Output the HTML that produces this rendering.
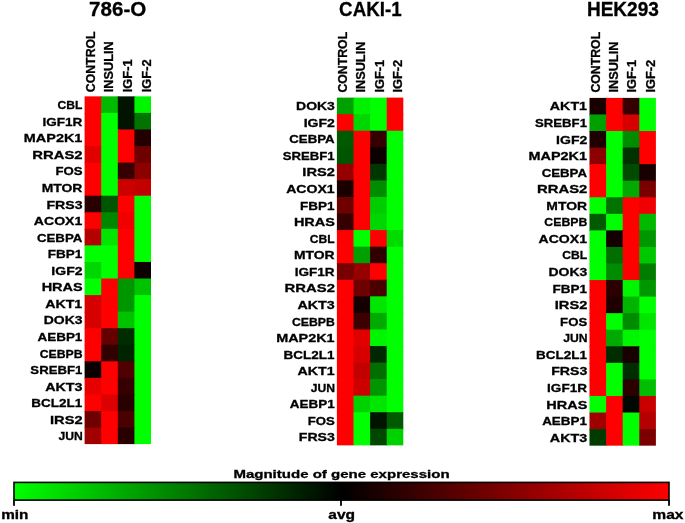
<!DOCTYPE html>
<html><head><meta charset="utf-8"><style>
html,body{margin:0;padding:0;background:#fff;width:685px;height:523px;overflow:hidden}
svg{display:block;filter:blur(0.4px)}
text{font-family:"Liberation Sans",sans-serif;font-weight:bold;fill:#000;stroke:#000;stroke-width:0.3px}
</style></head><body>
<svg width="685" height="523" viewBox="0 0 685 523">
<defs><linearGradient id="g" x1="0" x2="1" y1="0" y2="0">
<stop offset="0" stop-color="#00ff00"/><stop offset="0.5" stop-color="#000000"/><stop offset="1" stop-color="#ff0000"/>
</linearGradient></defs>

<text x="89.1" y="15.7" font-size="21" textLength="57.2" lengthAdjust="spacingAndGlyphs">786-O</text>
<text transform="translate(95.3,92.2) rotate(-90)" font-size="13.6" textLength="60.8" lengthAdjust="spacingAndGlyphs">CONTROL</text>
<text transform="translate(113.2,92.2) rotate(-90)" font-size="13.6" textLength="51.0" lengthAdjust="spacingAndGlyphs">INSULIN</text>
<text transform="translate(131.9,92.2) rotate(-90)" font-size="13.6" textLength="32.8" lengthAdjust="spacingAndGlyphs">IGF-1</text>
<text transform="translate(150.5,92.2) rotate(-90)" font-size="13.6" textLength="32.8" lengthAdjust="spacingAndGlyphs">IGF-2</text>
<text x="82.36" y="109.1" font-size="11.6" text-anchor="end" textLength="24.87" lengthAdjust="spacingAndGlyphs">CBL</text>
<text x="82.28" y="125.7" font-size="11.6" text-anchor="end" textLength="39.87" lengthAdjust="spacingAndGlyphs">IGF1R</text>
<text x="82.36" y="142.2" font-size="11.6" text-anchor="end" textLength="58.50" lengthAdjust="spacingAndGlyphs">MAP2K1</text>
<text x="82.61" y="158.8" font-size="11.6" text-anchor="end" textLength="50.28" lengthAdjust="spacingAndGlyphs">RRAS2</text>
<text x="82.52" y="175.4" font-size="11.6" text-anchor="end" textLength="27.09" lengthAdjust="spacingAndGlyphs">FOS</text>
<text x="82.37" y="191.9" font-size="11.6" text-anchor="end" textLength="40.69" lengthAdjust="spacingAndGlyphs">MTOR</text>
<text x="82.57" y="208.5" font-size="11.6" text-anchor="end" textLength="36.10" lengthAdjust="spacingAndGlyphs">FRS3</text>
<text x="82.30" y="225.0" font-size="11.6" text-anchor="end" textLength="48.44" lengthAdjust="spacingAndGlyphs">ACOX1</text>
<text x="82.36" y="241.6" font-size="11.6" text-anchor="end" textLength="45.40" lengthAdjust="spacingAndGlyphs">CEBPA</text>
<text x="82.32" y="258.2" font-size="11.6" text-anchor="end" textLength="34.51" lengthAdjust="spacingAndGlyphs">FBP1</text>
<text x="82.57" y="274.7" font-size="11.6" text-anchor="end" textLength="31.19" lengthAdjust="spacingAndGlyphs">IGF2</text>
<text x="82.62" y="291.3" font-size="11.6" text-anchor="end" textLength="40.97" lengthAdjust="spacingAndGlyphs">HRAS</text>
<text x="82.30" y="307.8" font-size="11.6" text-anchor="end" textLength="37.13" lengthAdjust="spacingAndGlyphs">AKT1</text>
<text x="82.53" y="324.4" font-size="11.6" text-anchor="end" textLength="38.74" lengthAdjust="spacingAndGlyphs">DOK3</text>
<text x="82.36" y="341.0" font-size="11.6" text-anchor="end" textLength="44.89" lengthAdjust="spacingAndGlyphs">AEBP1</text>
<text x="82.62" y="357.5" font-size="11.6" text-anchor="end" textLength="42.93" lengthAdjust="spacingAndGlyphs">CEBPB</text>
<text x="82.28" y="374.1" font-size="11.6" text-anchor="end" textLength="51.91" lengthAdjust="spacingAndGlyphs">SREBF1</text>
<text x="82.54" y="390.6" font-size="11.6" text-anchor="end" textLength="37.38" lengthAdjust="spacingAndGlyphs">AKT3</text>
<text x="82.28" y="407.2" font-size="11.6" text-anchor="end" textLength="50.97" lengthAdjust="spacingAndGlyphs">BCL2L1</text>
<text x="82.61" y="423.8" font-size="11.6" text-anchor="end" textLength="32.56" lengthAdjust="spacingAndGlyphs">IRS2</text>
<text x="82.82" y="440.3" font-size="11.6" text-anchor="end" textLength="24.32" lengthAdjust="spacingAndGlyphs">JUN</text>
<rect x="84.60" y="96.35" width="17.40" height="17.36" fill="#ff0000"/>
<rect x="101.20" y="96.35" width="17.40" height="17.36" fill="#00b900"/>
<rect x="117.80" y="96.35" width="17.40" height="17.36" fill="#001400"/>
<rect x="134.40" y="96.35" width="16.60" height="17.36" fill="#00f500"/>
<rect x="84.60" y="112.91" width="17.40" height="17.36" fill="#ff0000"/>
<rect x="101.20" y="112.91" width="17.40" height="17.36" fill="#00ff00"/>
<rect x="117.80" y="112.91" width="17.40" height="17.36" fill="#001400"/>
<rect x="134.40" y="112.91" width="16.60" height="17.36" fill="#007300"/>
<rect x="84.60" y="129.47" width="17.40" height="17.36" fill="#ff0000"/>
<rect x="101.20" y="129.47" width="17.40" height="17.36" fill="#00ff00"/>
<rect x="117.80" y="129.47" width="17.40" height="17.36" fill="#ff0000"/>
<rect x="134.40" y="129.47" width="16.60" height="17.36" fill="#230000"/>
<rect x="84.60" y="146.03" width="17.40" height="17.36" fill="#e10000"/>
<rect x="101.20" y="146.03" width="17.40" height="17.36" fill="#00ff00"/>
<rect x="117.80" y="146.03" width="17.40" height="17.36" fill="#ff0000"/>
<rect x="134.40" y="146.03" width="16.60" height="17.36" fill="#6e0000"/>
<rect x="84.60" y="162.59" width="17.40" height="17.36" fill="#ff0000"/>
<rect x="101.20" y="162.59" width="17.40" height="17.36" fill="#00ff00"/>
<rect x="117.80" y="162.59" width="17.40" height="17.36" fill="#370000"/>
<rect x="134.40" y="162.59" width="16.60" height="17.36" fill="#8c0000"/>
<rect x="84.60" y="179.15" width="17.40" height="17.36" fill="#ff0000"/>
<rect x="101.20" y="179.15" width="17.40" height="17.36" fill="#00ff00"/>
<rect x="117.80" y="179.15" width="17.40" height="17.36" fill="#cd0000"/>
<rect x="134.40" y="179.15" width="16.60" height="17.36" fill="#c30000"/>
<rect x="84.60" y="195.71" width="17.40" height="17.36" fill="#280000"/>
<rect x="101.20" y="195.71" width="17.40" height="17.36" fill="#005500"/>
<rect x="117.80" y="195.71" width="17.40" height="17.36" fill="#ff0000"/>
<rect x="134.40" y="195.71" width="16.60" height="17.36" fill="#00ff00"/>
<rect x="84.60" y="212.27" width="17.40" height="17.36" fill="#ff0000"/>
<rect x="101.20" y="212.27" width="17.40" height="17.36" fill="#008700"/>
<rect x="117.80" y="212.27" width="17.40" height="17.36" fill="#f00000"/>
<rect x="134.40" y="212.27" width="16.60" height="17.36" fill="#00ff00"/>
<rect x="84.60" y="228.83" width="17.40" height="17.36" fill="#b40000"/>
<rect x="101.20" y="228.83" width="17.40" height="17.36" fill="#00e600"/>
<rect x="117.80" y="228.83" width="17.40" height="17.36" fill="#ff0000"/>
<rect x="134.40" y="228.83" width="16.60" height="17.36" fill="#00ff00"/>
<rect x="84.60" y="245.39" width="17.40" height="17.36" fill="#00ff00"/>
<rect x="101.20" y="245.39" width="17.40" height="17.36" fill="#00ff00"/>
<rect x="117.80" y="245.39" width="17.40" height="17.36" fill="#ff0000"/>
<rect x="134.40" y="245.39" width="16.60" height="17.36" fill="#00ff00"/>
<rect x="84.60" y="261.95" width="17.40" height="17.36" fill="#00d700"/>
<rect x="101.20" y="261.95" width="17.40" height="17.36" fill="#00ff00"/>
<rect x="117.80" y="261.95" width="17.40" height="17.36" fill="#ff0000"/>
<rect x="134.40" y="261.95" width="16.60" height="17.36" fill="#0c0000"/>
<rect x="84.60" y="278.51" width="17.40" height="17.36" fill="#00ff00"/>
<rect x="101.20" y="278.51" width="17.40" height="17.36" fill="#ff0000"/>
<rect x="117.80" y="278.51" width="17.40" height="17.36" fill="#009600"/>
<rect x="134.40" y="278.51" width="16.60" height="17.36" fill="#00c300"/>
<rect x="84.60" y="295.07" width="17.40" height="17.36" fill="#d70000"/>
<rect x="101.20" y="295.07" width="17.40" height="17.36" fill="#ff0000"/>
<rect x="117.80" y="295.07" width="17.40" height="17.36" fill="#009600"/>
<rect x="134.40" y="295.07" width="16.60" height="17.36" fill="#00ff00"/>
<rect x="84.60" y="311.63" width="17.40" height="17.36" fill="#d70000"/>
<rect x="101.20" y="311.63" width="17.40" height="17.36" fill="#ff0000"/>
<rect x="117.80" y="311.63" width="17.40" height="17.36" fill="#00c300"/>
<rect x="134.40" y="311.63" width="16.60" height="17.36" fill="#00ff00"/>
<rect x="84.60" y="328.19" width="17.40" height="17.36" fill="#ff0000"/>
<rect x="101.20" y="328.19" width="17.40" height="17.36" fill="#640000"/>
<rect x="117.80" y="328.19" width="17.40" height="17.36" fill="#002d00"/>
<rect x="134.40" y="328.19" width="16.60" height="17.36" fill="#00ff00"/>
<rect x="84.60" y="344.75" width="17.40" height="17.36" fill="#ff0000"/>
<rect x="101.20" y="344.75" width="17.40" height="17.36" fill="#320000"/>
<rect x="117.80" y="344.75" width="17.40" height="17.36" fill="#002300"/>
<rect x="134.40" y="344.75" width="16.60" height="17.36" fill="#00ff00"/>
<rect x="84.60" y="361.31" width="17.40" height="17.36" fill="#0a0000"/>
<rect x="101.20" y="361.31" width="17.40" height="17.36" fill="#ff0000"/>
<rect x="117.80" y="361.31" width="17.40" height="17.36" fill="#500000"/>
<rect x="134.40" y="361.31" width="16.60" height="17.36" fill="#00ff00"/>
<rect x="84.60" y="377.87" width="17.40" height="17.36" fill="#e60000"/>
<rect x="101.20" y="377.87" width="17.40" height="17.36" fill="#ff0000"/>
<rect x="117.80" y="377.87" width="17.40" height="17.36" fill="#370000"/>
<rect x="134.40" y="377.87" width="16.60" height="17.36" fill="#00ff00"/>
<rect x="84.60" y="394.43" width="17.40" height="17.36" fill="#ff0000"/>
<rect x="101.20" y="394.43" width="17.40" height="17.36" fill="#dc0000"/>
<rect x="117.80" y="394.43" width="17.40" height="17.36" fill="#280000"/>
<rect x="134.40" y="394.43" width="16.60" height="17.36" fill="#00ff00"/>
<rect x="84.60" y="410.99" width="17.40" height="17.36" fill="#6e0000"/>
<rect x="101.20" y="410.99" width="17.40" height="17.36" fill="#ff0000"/>
<rect x="117.80" y="410.99" width="17.40" height="17.36" fill="#4b0000"/>
<rect x="134.40" y="410.99" width="16.60" height="17.36" fill="#00ff00"/>
<rect x="84.60" y="427.55" width="17.40" height="16.56" fill="#a00000"/>
<rect x="101.20" y="427.55" width="17.40" height="16.56" fill="#ff0000"/>
<rect x="117.80" y="427.55" width="17.40" height="16.56" fill="#280000"/>
<rect x="134.40" y="427.55" width="16.60" height="16.56" fill="#00ff00"/>
<text x="339.1" y="15.7" font-size="21" textLength="62.5" lengthAdjust="spacingAndGlyphs">CAKI-1</text>
<text transform="translate(347.2,92.6) rotate(-90)" font-size="13.6" textLength="60.8" lengthAdjust="spacingAndGlyphs">CONTROL</text>
<text transform="translate(365.1,92.6) rotate(-90)" font-size="13.6" textLength="51.0" lengthAdjust="spacingAndGlyphs">INSULIN</text>
<text transform="translate(383.8,92.6) rotate(-90)" font-size="13.6" textLength="32.8" lengthAdjust="spacingAndGlyphs">IGF-1</text>
<text transform="translate(402.4,92.6) rotate(-90)" font-size="13.6" textLength="32.8" lengthAdjust="spacingAndGlyphs">IGF-2</text>
<text x="334.83" y="110.2" font-size="11.6" text-anchor="end" textLength="38.74" lengthAdjust="spacingAndGlyphs">DOK3</text>
<text x="334.87" y="126.7" font-size="11.6" text-anchor="end" textLength="31.19" lengthAdjust="spacingAndGlyphs">IGF2</text>
<text x="334.66" y="143.3" font-size="11.6" text-anchor="end" textLength="45.40" lengthAdjust="spacingAndGlyphs">CEBPA</text>
<text x="334.58" y="159.9" font-size="11.6" text-anchor="end" textLength="51.91" lengthAdjust="spacingAndGlyphs">SREBF1</text>
<text x="334.91" y="176.4" font-size="11.6" text-anchor="end" textLength="32.56" lengthAdjust="spacingAndGlyphs">IRS2</text>
<text x="334.60" y="193.0" font-size="11.6" text-anchor="end" textLength="48.44" lengthAdjust="spacingAndGlyphs">ACOX1</text>
<text x="334.62" y="209.5" font-size="11.6" text-anchor="end" textLength="34.51" lengthAdjust="spacingAndGlyphs">FBP1</text>
<text x="334.92" y="226.1" font-size="11.6" text-anchor="end" textLength="40.97" lengthAdjust="spacingAndGlyphs">HRAS</text>
<text x="334.66" y="242.7" font-size="11.6" text-anchor="end" textLength="24.87" lengthAdjust="spacingAndGlyphs">CBL</text>
<text x="334.67" y="259.2" font-size="11.6" text-anchor="end" textLength="40.69" lengthAdjust="spacingAndGlyphs">MTOR</text>
<text x="334.58" y="275.8" font-size="11.6" text-anchor="end" textLength="39.87" lengthAdjust="spacingAndGlyphs">IGF1R</text>
<text x="334.91" y="292.3" font-size="11.6" text-anchor="end" textLength="50.28" lengthAdjust="spacingAndGlyphs">RRAS2</text>
<text x="334.84" y="308.9" font-size="11.6" text-anchor="end" textLength="37.38" lengthAdjust="spacingAndGlyphs">AKT3</text>
<text x="334.92" y="325.5" font-size="11.6" text-anchor="end" textLength="42.93" lengthAdjust="spacingAndGlyphs">CEBPB</text>
<text x="334.66" y="342.0" font-size="11.6" text-anchor="end" textLength="58.50" lengthAdjust="spacingAndGlyphs">MAP2K1</text>
<text x="334.58" y="358.6" font-size="11.6" text-anchor="end" textLength="50.97" lengthAdjust="spacingAndGlyphs">BCL2L1</text>
<text x="334.60" y="375.1" font-size="11.6" text-anchor="end" textLength="37.13" lengthAdjust="spacingAndGlyphs">AKT1</text>
<text x="335.12" y="391.7" font-size="11.6" text-anchor="end" textLength="24.32" lengthAdjust="spacingAndGlyphs">JUN</text>
<text x="334.66" y="408.3" font-size="11.6" text-anchor="end" textLength="44.89" lengthAdjust="spacingAndGlyphs">AEBP1</text>
<text x="334.82" y="424.8" font-size="11.6" text-anchor="end" textLength="27.09" lengthAdjust="spacingAndGlyphs">FOS</text>
<text x="334.87" y="441.4" font-size="11.6" text-anchor="end" textLength="36.10" lengthAdjust="spacingAndGlyphs">FRS3</text>
<rect x="336.90" y="97.60" width="17.40" height="17.36" fill="#00a000"/>
<rect x="353.50" y="97.60" width="17.40" height="17.36" fill="#00f000"/>
<rect x="370.10" y="97.60" width="17.40" height="17.36" fill="#00ff00"/>
<rect x="386.70" y="97.60" width="16.60" height="17.36" fill="#ff0000"/>
<rect x="336.90" y="114.16" width="17.40" height="17.36" fill="#ff0000"/>
<rect x="353.50" y="114.16" width="17.40" height="17.36" fill="#00d700"/>
<rect x="370.10" y="114.16" width="17.40" height="17.36" fill="#00ff00"/>
<rect x="386.70" y="114.16" width="16.60" height="17.36" fill="#ff0000"/>
<rect x="336.90" y="130.72" width="17.40" height="17.36" fill="#005a00"/>
<rect x="353.50" y="130.72" width="17.40" height="17.36" fill="#ff0000"/>
<rect x="370.10" y="130.72" width="17.40" height="17.36" fill="#370000"/>
<rect x="386.70" y="130.72" width="16.60" height="17.36" fill="#00ff00"/>
<rect x="336.90" y="147.28" width="17.40" height="17.36" fill="#005600"/>
<rect x="353.50" y="147.28" width="17.40" height="17.36" fill="#ff0000"/>
<rect x="370.10" y="147.28" width="17.40" height="17.36" fill="#0c0000"/>
<rect x="386.70" y="147.28" width="16.60" height="17.36" fill="#00ff00"/>
<rect x="336.90" y="163.84" width="17.40" height="17.36" fill="#960000"/>
<rect x="353.50" y="163.84" width="17.40" height="17.36" fill="#ff0000"/>
<rect x="370.10" y="163.84" width="17.40" height="17.36" fill="#003700"/>
<rect x="386.70" y="163.84" width="16.60" height="17.36" fill="#00ff00"/>
<rect x="336.90" y="180.40" width="17.40" height="17.36" fill="#190000"/>
<rect x="353.50" y="180.40" width="17.40" height="17.36" fill="#ff0000"/>
<rect x="370.10" y="180.40" width="17.40" height="17.36" fill="#008c00"/>
<rect x="386.70" y="180.40" width="16.60" height="17.36" fill="#00ff00"/>
<rect x="336.90" y="196.96" width="17.40" height="17.36" fill="#6e0000"/>
<rect x="353.50" y="196.96" width="17.40" height="17.36" fill="#ff0000"/>
<rect x="370.10" y="196.96" width="17.40" height="17.36" fill="#00cd00"/>
<rect x="386.70" y="196.96" width="16.60" height="17.36" fill="#00ff00"/>
<rect x="336.90" y="213.52" width="17.40" height="17.36" fill="#370000"/>
<rect x="353.50" y="213.52" width="17.40" height="17.36" fill="#ff0000"/>
<rect x="370.10" y="213.52" width="17.40" height="17.36" fill="#00d700"/>
<rect x="386.70" y="213.52" width="16.60" height="17.36" fill="#00ff00"/>
<rect x="336.90" y="230.08" width="17.40" height="17.36" fill="#ff0000"/>
<rect x="353.50" y="230.08" width="17.40" height="17.36" fill="#00ff00"/>
<rect x="370.10" y="230.08" width="17.40" height="17.36" fill="#ff0000"/>
<rect x="386.70" y="230.08" width="16.60" height="17.36" fill="#00dc00"/>
<rect x="336.90" y="246.64" width="17.40" height="17.36" fill="#ff0000"/>
<rect x="353.50" y="246.64" width="17.40" height="17.36" fill="#00a000"/>
<rect x="370.10" y="246.64" width="17.40" height="17.36" fill="#300000"/>
<rect x="386.70" y="246.64" width="16.60" height="17.36" fill="#00ff00"/>
<rect x="336.90" y="263.20" width="17.40" height="17.36" fill="#780000"/>
<rect x="353.50" y="263.20" width="17.40" height="17.36" fill="#960000"/>
<rect x="370.10" y="263.20" width="17.40" height="17.36" fill="#ff0000"/>
<rect x="386.70" y="263.20" width="16.60" height="17.36" fill="#00ff00"/>
<rect x="336.90" y="279.76" width="17.40" height="17.36" fill="#ff0000"/>
<rect x="353.50" y="279.76" width="17.40" height="17.36" fill="#6e0000"/>
<rect x="370.10" y="279.76" width="17.40" height="17.36" fill="#4b0000"/>
<rect x="386.70" y="279.76" width="16.60" height="17.36" fill="#00ff00"/>
<rect x="336.90" y="296.32" width="17.40" height="17.36" fill="#ff0000"/>
<rect x="353.50" y="296.32" width="17.40" height="17.36" fill="#140000"/>
<rect x="370.10" y="296.32" width="17.40" height="17.36" fill="#00e600"/>
<rect x="386.70" y="296.32" width="16.60" height="17.36" fill="#00ff00"/>
<rect x="336.90" y="312.88" width="17.40" height="17.36" fill="#ff0000"/>
<rect x="353.50" y="312.88" width="17.40" height="17.36" fill="#3c0000"/>
<rect x="370.10" y="312.88" width="17.40" height="17.36" fill="#00aa00"/>
<rect x="386.70" y="312.88" width="16.60" height="17.36" fill="#00ff00"/>
<rect x="336.90" y="329.44" width="17.40" height="17.36" fill="#ff0000"/>
<rect x="353.50" y="329.44" width="17.40" height="17.36" fill="#e10000"/>
<rect x="370.10" y="329.44" width="17.40" height="17.36" fill="#00f500"/>
<rect x="386.70" y="329.44" width="16.60" height="17.36" fill="#00ff00"/>
<rect x="336.90" y="346.00" width="17.40" height="17.36" fill="#ff0000"/>
<rect x="353.50" y="346.00" width="17.40" height="17.36" fill="#d70000"/>
<rect x="370.10" y="346.00" width="17.40" height="17.36" fill="#002800"/>
<rect x="386.70" y="346.00" width="16.60" height="17.36" fill="#00ff00"/>
<rect x="336.90" y="362.56" width="17.40" height="17.36" fill="#ff0000"/>
<rect x="353.50" y="362.56" width="17.40" height="17.36" fill="#c30000"/>
<rect x="370.10" y="362.56" width="17.40" height="17.36" fill="#006e00"/>
<rect x="386.70" y="362.56" width="16.60" height="17.36" fill="#00ff00"/>
<rect x="336.90" y="379.12" width="17.40" height="17.36" fill="#ff0000"/>
<rect x="353.50" y="379.12" width="17.40" height="17.36" fill="#cd0000"/>
<rect x="370.10" y="379.12" width="17.40" height="17.36" fill="#009600"/>
<rect x="386.70" y="379.12" width="16.60" height="17.36" fill="#00ff00"/>
<rect x="336.90" y="395.68" width="17.40" height="17.36" fill="#ff0000"/>
<rect x="353.50" y="395.68" width="17.40" height="17.36" fill="#00d200"/>
<rect x="370.10" y="395.68" width="17.40" height="17.36" fill="#00e600"/>
<rect x="386.70" y="395.68" width="16.60" height="17.36" fill="#00ff00"/>
<rect x="336.90" y="412.24" width="17.40" height="17.36" fill="#ff0000"/>
<rect x="353.50" y="412.24" width="17.40" height="17.36" fill="#00ff00"/>
<rect x="370.10" y="412.24" width="17.40" height="17.36" fill="#001400"/>
<rect x="386.70" y="412.24" width="16.60" height="17.36" fill="#005a00"/>
<rect x="336.90" y="428.80" width="17.40" height="16.56" fill="#ff0000"/>
<rect x="353.50" y="428.80" width="17.40" height="16.56" fill="#00ff00"/>
<rect x="370.10" y="428.80" width="17.40" height="16.56" fill="#004800"/>
<rect x="386.70" y="428.80" width="16.60" height="16.56" fill="#00d200"/>
<text x="586.9" y="15.7" font-size="21" textLength="72.0" lengthAdjust="spacingAndGlyphs">HEK293</text>
<text transform="translate(599.9,92.6) rotate(-90)" font-size="13.6" textLength="60.8" lengthAdjust="spacingAndGlyphs">CONTROL</text>
<text transform="translate(617.8,92.6) rotate(-90)" font-size="13.6" textLength="51.0" lengthAdjust="spacingAndGlyphs">INSULIN</text>
<text transform="translate(636.4,92.6) rotate(-90)" font-size="13.6" textLength="32.8" lengthAdjust="spacingAndGlyphs">IGF-1</text>
<text transform="translate(655.0,92.6) rotate(-90)" font-size="13.6" textLength="32.8" lengthAdjust="spacingAndGlyphs">IGF-2</text>
<text x="587.00" y="110.4" font-size="11.6" text-anchor="end" textLength="37.13" lengthAdjust="spacingAndGlyphs">AKT1</text>
<text x="586.98" y="126.9" font-size="11.6" text-anchor="end" textLength="51.91" lengthAdjust="spacingAndGlyphs">SREBF1</text>
<text x="587.27" y="143.5" font-size="11.6" text-anchor="end" textLength="31.19" lengthAdjust="spacingAndGlyphs">IGF2</text>
<text x="587.06" y="160.1" font-size="11.6" text-anchor="end" textLength="58.50" lengthAdjust="spacingAndGlyphs">MAP2K1</text>
<text x="587.06" y="176.6" font-size="11.6" text-anchor="end" textLength="45.40" lengthAdjust="spacingAndGlyphs">CEBPA</text>
<text x="587.31" y="193.2" font-size="11.6" text-anchor="end" textLength="50.28" lengthAdjust="spacingAndGlyphs">RRAS2</text>
<text x="587.07" y="209.7" font-size="11.6" text-anchor="end" textLength="40.69" lengthAdjust="spacingAndGlyphs">MTOR</text>
<text x="587.32" y="226.3" font-size="11.6" text-anchor="end" textLength="42.93" lengthAdjust="spacingAndGlyphs">CEBPB</text>
<text x="587.00" y="242.9" font-size="11.6" text-anchor="end" textLength="48.44" lengthAdjust="spacingAndGlyphs">ACOX1</text>
<text x="587.06" y="259.4" font-size="11.6" text-anchor="end" textLength="24.87" lengthAdjust="spacingAndGlyphs">CBL</text>
<text x="587.23" y="276.0" font-size="11.6" text-anchor="end" textLength="38.74" lengthAdjust="spacingAndGlyphs">DOK3</text>
<text x="587.02" y="292.5" font-size="11.6" text-anchor="end" textLength="34.51" lengthAdjust="spacingAndGlyphs">FBP1</text>
<text x="587.31" y="309.1" font-size="11.6" text-anchor="end" textLength="32.56" lengthAdjust="spacingAndGlyphs">IRS2</text>
<text x="587.22" y="325.7" font-size="11.6" text-anchor="end" textLength="27.09" lengthAdjust="spacingAndGlyphs">FOS</text>
<text x="587.52" y="342.2" font-size="11.6" text-anchor="end" textLength="24.32" lengthAdjust="spacingAndGlyphs">JUN</text>
<text x="586.98" y="358.8" font-size="11.6" text-anchor="end" textLength="50.97" lengthAdjust="spacingAndGlyphs">BCL2L1</text>
<text x="587.27" y="375.3" font-size="11.6" text-anchor="end" textLength="36.10" lengthAdjust="spacingAndGlyphs">FRS3</text>
<text x="586.98" y="391.9" font-size="11.6" text-anchor="end" textLength="39.87" lengthAdjust="spacingAndGlyphs">IGF1R</text>
<text x="587.32" y="408.5" font-size="11.6" text-anchor="end" textLength="40.97" lengthAdjust="spacingAndGlyphs">HRAS</text>
<text x="587.06" y="425.0" font-size="11.6" text-anchor="end" textLength="44.89" lengthAdjust="spacingAndGlyphs">AEBP1</text>
<text x="587.24" y="441.6" font-size="11.6" text-anchor="end" textLength="37.38" lengthAdjust="spacingAndGlyphs">AKT3</text>
<rect x="589.50" y="97.90" width="17.40" height="17.36" fill="#190000"/>
<rect x="606.10" y="97.90" width="17.40" height="17.36" fill="#ff0000"/>
<rect x="622.70" y="97.90" width="17.40" height="17.36" fill="#370000"/>
<rect x="639.30" y="97.90" width="16.60" height="17.36" fill="#00ff00"/>
<rect x="589.50" y="114.46" width="17.40" height="17.36" fill="#00a000"/>
<rect x="606.10" y="114.46" width="17.40" height="17.36" fill="#ff0000"/>
<rect x="622.70" y="114.46" width="17.40" height="17.36" fill="#d70000"/>
<rect x="639.30" y="114.46" width="16.60" height="17.36" fill="#00ff00"/>
<rect x="589.50" y="131.02" width="17.40" height="17.36" fill="#1e0000"/>
<rect x="606.10" y="131.02" width="17.40" height="17.36" fill="#00ff00"/>
<rect x="622.70" y="131.02" width="17.40" height="17.36" fill="#008c00"/>
<rect x="639.30" y="131.02" width="16.60" height="17.36" fill="#ff0000"/>
<rect x="589.50" y="147.58" width="17.40" height="17.36" fill="#8c0000"/>
<rect x="606.10" y="147.58" width="17.40" height="17.36" fill="#00ff00"/>
<rect x="622.70" y="147.58" width="17.40" height="17.36" fill="#003200"/>
<rect x="639.30" y="147.58" width="16.60" height="17.36" fill="#ff0000"/>
<rect x="589.50" y="164.14" width="17.40" height="17.36" fill="#ff0000"/>
<rect x="606.10" y="164.14" width="17.40" height="17.36" fill="#00ff00"/>
<rect x="622.70" y="164.14" width="17.40" height="17.36" fill="#004b00"/>
<rect x="639.30" y="164.14" width="16.60" height="17.36" fill="#190000"/>
<rect x="589.50" y="180.70" width="17.40" height="17.36" fill="#ff0000"/>
<rect x="606.10" y="180.70" width="17.40" height="17.36" fill="#00ff00"/>
<rect x="622.70" y="180.70" width="17.40" height="17.36" fill="#00aa00"/>
<rect x="639.30" y="180.70" width="16.60" height="17.36" fill="#7a0000"/>
<rect x="589.50" y="197.26" width="17.40" height="17.36" fill="#00ff00"/>
<rect x="606.10" y="197.26" width="17.40" height="17.36" fill="#007300"/>
<rect x="622.70" y="197.26" width="17.40" height="17.36" fill="#ff0000"/>
<rect x="639.30" y="197.26" width="16.60" height="17.36" fill="#f00000"/>
<rect x="589.50" y="213.82" width="17.40" height="17.36" fill="#005a00"/>
<rect x="606.10" y="213.82" width="17.40" height="17.36" fill="#00ff00"/>
<rect x="622.70" y="213.82" width="17.40" height="17.36" fill="#ff0000"/>
<rect x="639.30" y="213.82" width="16.60" height="17.36" fill="#00b900"/>
<rect x="589.50" y="230.38" width="17.40" height="17.36" fill="#00ff00"/>
<rect x="606.10" y="230.38" width="17.40" height="17.36" fill="#140000"/>
<rect x="622.70" y="230.38" width="17.40" height="17.36" fill="#ff0000"/>
<rect x="639.30" y="230.38" width="16.60" height="17.36" fill="#009600"/>
<rect x="589.50" y="246.94" width="17.40" height="17.36" fill="#00ff00"/>
<rect x="606.10" y="246.94" width="17.40" height="17.36" fill="#006e00"/>
<rect x="622.70" y="246.94" width="17.40" height="17.36" fill="#ff0000"/>
<rect x="639.30" y="246.94" width="16.60" height="17.36" fill="#00c800"/>
<rect x="589.50" y="263.50" width="17.40" height="17.36" fill="#00ff00"/>
<rect x="606.10" y="263.50" width="17.40" height="17.36" fill="#008c00"/>
<rect x="622.70" y="263.50" width="17.40" height="17.36" fill="#ff0000"/>
<rect x="639.30" y="263.50" width="16.60" height="17.36" fill="#007d00"/>
<rect x="589.50" y="280.06" width="17.40" height="17.36" fill="#ff0000"/>
<rect x="606.10" y="280.06" width="17.40" height="17.36" fill="#2d0000"/>
<rect x="622.70" y="280.06" width="17.40" height="17.36" fill="#00f500"/>
<rect x="639.30" y="280.06" width="16.60" height="17.36" fill="#009600"/>
<rect x="589.50" y="296.62" width="17.40" height="17.36" fill="#ff0000"/>
<rect x="606.10" y="296.62" width="17.40" height="17.36" fill="#1e0000"/>
<rect x="622.70" y="296.62" width="17.40" height="17.36" fill="#00b400"/>
<rect x="639.30" y="296.62" width="16.60" height="17.36" fill="#00ff00"/>
<rect x="589.50" y="313.18" width="17.40" height="17.36" fill="#ff0000"/>
<rect x="606.10" y="313.18" width="17.40" height="17.36" fill="#00ff00"/>
<rect x="622.70" y="313.18" width="17.40" height="17.36" fill="#008c00"/>
<rect x="639.30" y="313.18" width="16.60" height="17.36" fill="#00e600"/>
<rect x="589.50" y="329.74" width="17.40" height="17.36" fill="#ff0000"/>
<rect x="606.10" y="329.74" width="17.40" height="17.36" fill="#00aa00"/>
<rect x="622.70" y="329.74" width="17.40" height="17.36" fill="#00f500"/>
<rect x="639.30" y="329.74" width="16.60" height="17.36" fill="#00ff00"/>
<rect x="589.50" y="346.30" width="17.40" height="17.36" fill="#ff0000"/>
<rect x="606.10" y="346.30" width="17.40" height="17.36" fill="#002d00"/>
<rect x="622.70" y="346.30" width="17.40" height="17.36" fill="#190000"/>
<rect x="639.30" y="346.30" width="16.60" height="17.36" fill="#00ff00"/>
<rect x="589.50" y="362.86" width="17.40" height="17.36" fill="#ff0000"/>
<rect x="606.10" y="362.86" width="17.40" height="17.36" fill="#00ff00"/>
<rect x="622.70" y="362.86" width="17.40" height="17.36" fill="#002d00"/>
<rect x="639.30" y="362.86" width="16.60" height="17.36" fill="#00ff00"/>
<rect x="589.50" y="379.42" width="17.40" height="17.36" fill="#ff0000"/>
<rect x="606.10" y="379.42" width="17.40" height="17.36" fill="#00ff00"/>
<rect x="622.70" y="379.42" width="17.40" height="17.36" fill="#2d0000"/>
<rect x="639.30" y="379.42" width="16.60" height="17.36" fill="#00be00"/>
<rect x="589.50" y="395.98" width="17.40" height="17.36" fill="#00ff00"/>
<rect x="606.10" y="395.98" width="17.40" height="17.36" fill="#ff0000"/>
<rect x="622.70" y="395.98" width="17.40" height="17.36" fill="#000800"/>
<rect x="639.30" y="395.98" width="16.60" height="17.36" fill="#c80000"/>
<rect x="589.50" y="412.54" width="17.40" height="17.36" fill="#a00000"/>
<rect x="606.10" y="412.54" width="17.40" height="17.36" fill="#ff0000"/>
<rect x="622.70" y="412.54" width="17.40" height="17.36" fill="#00ff00"/>
<rect x="639.30" y="412.54" width="16.60" height="17.36" fill="#b40000"/>
<rect x="589.50" y="429.10" width="17.40" height="16.56" fill="#003c00"/>
<rect x="606.10" y="429.10" width="17.40" height="16.56" fill="#ff0000"/>
<rect x="622.70" y="429.10" width="17.40" height="16.56" fill="#00ff00"/>
<rect x="639.30" y="429.10" width="16.60" height="16.56" fill="#7d0000"/>
<text x="233.4" y="477.5" font-size="11" textLength="216.2" lengthAdjust="spacingAndGlyphs">Magnitude of gene expression</text>
<rect x="14.0" y="482.4" width="655.0" height="17.7" fill="url(#g)" stroke="#000" stroke-width="1.6"/>
<rect x="13.1" y="500" width="1.8" height="5.8" fill="#000"/>
<rect x="340.1" y="500" width="1.8" height="5.8" fill="#000"/>
<rect x="668.1" y="500" width="1.8" height="5.8" fill="#000"/>
<text x="1.2" y="519.2" font-size="12.5" textLength="27.2" lengthAdjust="spacingAndGlyphs">min</text>
<text x="328.3" y="519.2" font-size="12.5" textLength="26.8" lengthAdjust="spacingAndGlyphs">avg</text>
<text x="652.3" y="519.2" font-size="12.5" textLength="31.2" lengthAdjust="spacingAndGlyphs">max</text>
</svg>
</body></html>
